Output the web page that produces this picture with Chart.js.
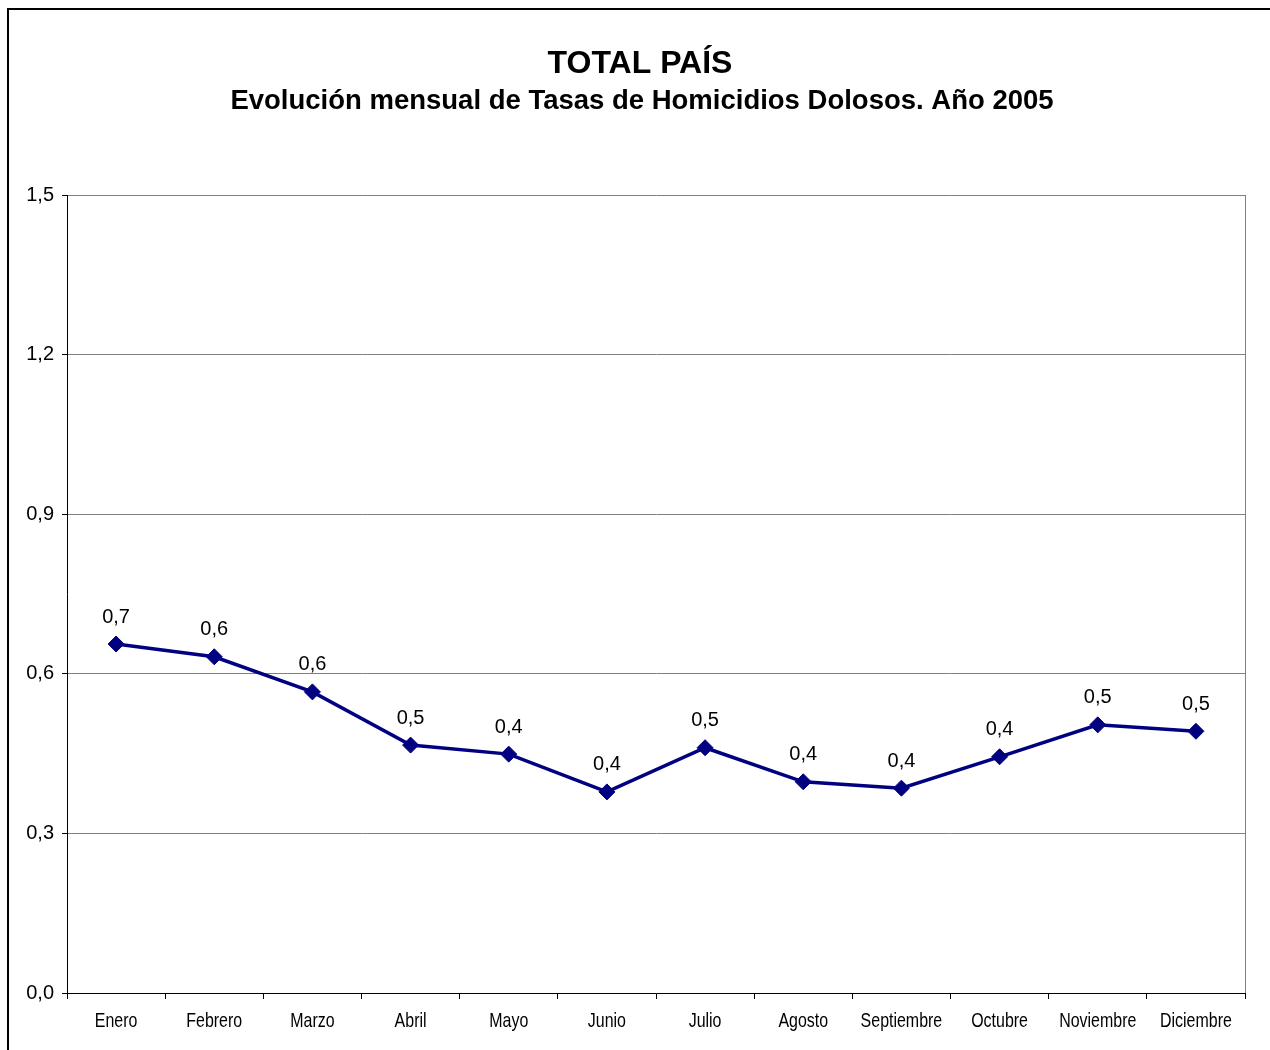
<!DOCTYPE html>
<html>
<head>
<meta charset="utf-8">
<script src="https://cdn.jsdelivr.net/npm/chart.js@4"></script>
<style>
  html, body { margin: 0; padding: 0; background: #fff; }
  #wrap { position: relative; width: 1270px; height: 1050px; }
</style>
</head>
<body>
<div id="wrap"><canvas id="tasasChart" width="1270" height="1050"></canvas></div>
<script>
const months = ["Enero", "Febrero", "Marzo", "Abril", "Mayo", "Junio", "Julio",
  "Agosto", "Septiembre", "Octubre", "Noviembre", "Diciembre"];
const tasas = [0.656, 0.632, 0.566, 0.466, 0.449, 0.378, 0.461, 0.397, 0.385, 0.444, 0.504, 0.492];
const yTicks = [0, 0.3, 0.6, 0.9, 1.2, 1.5];

const fmt = (v) => v.toFixed(1).replace(".", ",");
const SANS = "'Liberation Sans', Arial, sans-serif";

// frame, titles, plot border, narrow month labels and value labels
const decor = {
  id: "decor",
  beforeDraw(chart) {
    const c = chart.ctx;
    c.save();
    c.fillStyle = "#fff";
    c.fillRect(0, 0, chart.width, chart.height);
    c.strokeStyle = "#000";
    c.lineWidth = 2;
    c.beginPath();
    c.moveTo(8, chart.height);
    c.lineTo(8, 9);
    c.lineTo(chart.width, 9);
    c.stroke();
    c.restore();
  },
  afterDraw(chart) {
    const c = chart.ctx;
    const a = chart.chartArea;
    c.save();
    c.strokeStyle = "#808080";
    c.lineWidth = 1;
    c.beginPath();
    c.moveTo(a.right + 0.5, a.top);
    c.lineTo(a.right + 0.5, a.bottom);
    c.stroke();

    c.fillStyle = "#000";
    c.textAlign = "center";
    c.textBaseline = "middle";
    c.font = "bold 32px " + SANS;
    c.fillText("TOTAL PAÍS", 640, 64);
    c.font = "bold 27.5px " + SANS;
    c.fillText("Evolución mensual de Tasas de Homicidios Dolosos. Año 2005", 642, 101);

    // month names, squeezed horizontally like the condensed original
    const xs = chart.scales.x;
    c.font = "21px " + SANS;
    months.forEach((m, i) => {
      const x = xs.getPixelForValue(i);
      c.save();
      c.translate(x, 1021);
      c.scale(0.76, 1);
      c.fillText(m, 0, 0);
      c.restore();
    });

    c.font = "20px " + SANS;
    const meta = chart.getDatasetMeta(0);
    meta.data.forEach((pt, i) => {
      c.fillText(fmt(tasas[i]), pt.x, pt.y - 27);
    });
    c.restore();
  },
};

new Chart(document.getElementById("tasasChart"), {
  type: "line",
  data: {
    labels: months,
    datasets: [
      {
        label: "Tasa",
        data: tasas,
        borderColor: "#000080",
        backgroundColor: "#000080",
        borderWidth: 3.5,
        tension: 0,
        pointStyle: "rectRot",
        pointRadius: 8,
        pointBackgroundColor: "#000080",
        pointBorderColor: "#000080",
        pointBorderWidth: 1,
      },
    ],
  },
  options: {
    responsive: false,
    animation: false,
    layout: { padding: { top: 195, right: 25, left: 0, bottom: 0 } },
    plugins: {
      legend: { display: false },
      tooltip: { enabled: false },
    },
    scales: {
      x: {
        offset: true,
        grid: {
          offset: true,
          drawOnChartArea: false,
          drawTicks: true,
          tickLength: 6,
          tickColor: "#000",
        },
        border: { color: "#000", width: 1 },
        ticks: { display: false },
        afterFit: (s) => { s.height = 57; },
      },
      y: {
        min: 0,
        max: 1.5,
        afterBuildTicks: (s) => { s.ticks = yTicks.map((v) => ({ value: v })); },
        grid: {
          color: "#808080",
          lineWidth: 1,
          drawTicks: true,
          tickLength: 5,
          tickColor: "#000",
        },
        border: { color: "#000", width: 1 },
        ticks: {
          color: "#000",
          padding: 8,
          font: { family: SANS, size: 20 },
          callback: (v) => fmt(v),
        },
        afterFit: (s) => { s.width = 67; },
      },
    },
  },
  plugins: [decor],
});
</script>
</body>
</html>
